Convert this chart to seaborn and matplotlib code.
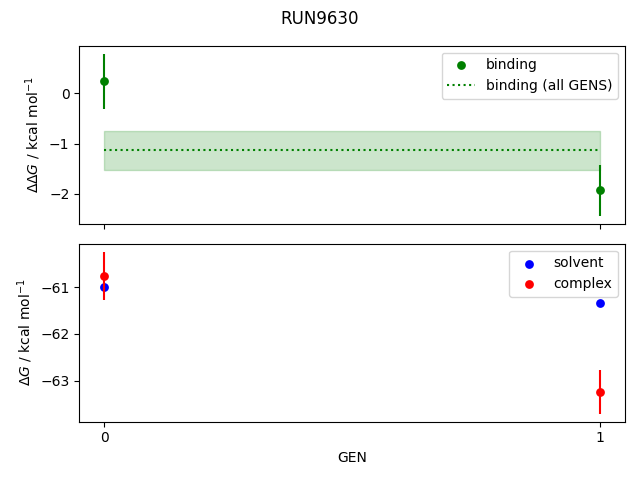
import seaborn as sns
import matplotlib.pyplot as plt
import pandas as pd
import numpy as np

plt.rcParams['figure.dpi'] = 100

# Data
gens = [0, 1]
binding = [0.24, -1.93]
binding_err = [0.55, 0.50]
binding_all = -1.13
binding_all_err = 0.39
solvent = [-61.00, -61.34]
solvent_err = [0.03, 0.05]
complex_ = [-60.76, -63.24]
complex_err = [0.52, 0.47]

fig, (ax1, ax2) = plt.subplots(2, 1, sharex=True, figsize=(6.4, 4.8))
fig.suptitle('RUN9630')

# Top: binding free energy
ax1.errorbar(gens, binding, yerr=binding_err, fmt='none', ecolor='green')
sns.scatterplot(x=gens, y=binding, color='green', s=40, linewidth=0, label='binding', ax=ax1)
sns.lineplot(x=gens, y=[binding_all] * len(gens), color='green', linestyle=':',
             label='binding (all GENS)', ax=ax1)
ax1.fill_between(gens, binding_all - binding_all_err, binding_all + binding_all_err,
                 color='green', alpha=0.2)
ax1.set_ylabel(r'$\Delta\Delta G$ / kcal mol$^{-1}$')
ax1.legend(loc='upper right')

# Bottom: solvent and complex legs
ax2.errorbar(gens, solvent, yerr=solvent_err, fmt='none', ecolor='blue')
sns.scatterplot(x=gens, y=solvent, color='blue', s=40, linewidth=0, label='solvent', ax=ax2)
ax2.errorbar(gens, complex_, yerr=complex_err, fmt='none', ecolor='red')
sns.scatterplot(x=gens, y=complex_, color='red', s=40, linewidth=0, label='complex', ax=ax2)
ax2.set_ylabel(r'$\Delta G$ / kcal mol$^{-1}$')
ax2.set_xlabel('GEN')
ax2.set_xticks(gens)
ax2.legend(loc='upper right')

plt.tight_layout()
fig.subplots_adjust(top=0.905)
plt.savefig('out.png')
